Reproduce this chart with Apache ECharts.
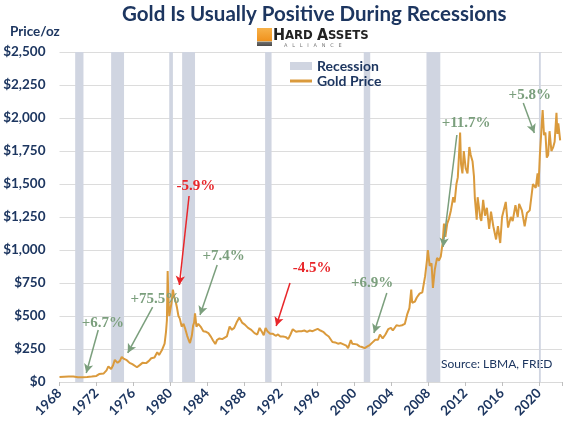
<!DOCTYPE html>
<html lang="en">
<head>
<meta charset="UTF-8">
<title>Gold Is Usually Positive During Recessions</title>
<style>
    html, body { margin: 0; padding: 0; background: #fff; }
    #main { width: 566px; height: 430px; }
</style>
</head>
<body>
<div id="main"></div>
<script src="https://cdn.jsdelivr.net/npm/echarts@6/dist/echarts.min.js"></script>
<script>
    const myChart = echarts.init(document.getElementById('main'));

    // recession periods [start, end] (decimal years)
    const recessions = [
        [1969.7, 1970.6], [1973.6, 1975.0], [1979.9, 1980.3], [1981.3, 1982.7],
        [1990.3, 1991.0], [2001.0, 2001.7], [2007.8, 2009.3], [2020.0, 2020.2]
    ];

    // gold price, [year, $/oz]
    const goldPrice = [
        [1968.0,38],[1968.5,40],[1969.0,42],[1969.5,41],[1970.0,36],[1970.5,36],[1971.0,38],[1971.5,41],
        [1972.0,46],[1972.3,60],[1972.8,65],[1973.1,88],[1973.3,118],[1973.6,98],[1973.8,125],[1974.0,168],
        [1974.3,145],[1974.55,160],[1974.75,190],[1975.0,175],[1975.3,165],[1975.6,145],[1975.9,135],
        [1976.1,130],[1976.4,112],[1976.7,128],[1977.0,145],[1977.4,143],[1977.7,160],[1977.95,180],
        [1978.3,185],[1978.6,225],[1978.8,205],[1979.1,240],[1979.4,290],[1979.55,380],[1979.65,470],
        [1979.73,840],[1979.8,650],[1979.9,500],[1980.0,540],[1980.15,600],[1980.3,700],[1980.45,640],
        [1980.6,610],[1980.75,560],[1980.9,500],[1981.05,480],[1981.25,420],[1981.45,440],[1981.65,400],
        [1981.85,350],[1982.0,320],[1982.15,295],[1982.35,350],[1982.5,430],[1982.6,450],[1982.7,520],
        [1982.85,420],[1983.05,440],[1983.3,420],[1983.6,385],[1983.9,380],[1984.15,370],[1984.45,340],
        [1984.65,315],[1984.9,288],[1985.1,320],[1985.35,330],[1985.65,325],[1985.85,340],[1986.15,345],
        [1986.45,420],[1986.7,395],[1986.95,410],[1987.2,450],[1987.35,460],[1987.5,488],[1987.8,450],
        [1988.1,435],[1988.45,410],[1988.8,395],[1989.15,370],[1989.45,360],[1989.7,410],[1989.95,380],
        [1990.15,355],[1990.35,410],[1990.55,385],[1990.85,365],[1991.15,365],[1991.45,350],[1991.7,360],
        [1991.95,345],[1992.25,345],[1992.55,340],[1992.8,325],[1993.05,360],[1993.3,400],[1993.65,380],
        [1993.95,385],[1994.25,385],[1994.55,390],[1994.85,380],[1995.15,390],[1995.45,385],[1995.75,395],
        [1996.0,402],[1996.3,390],[1996.6,380],[1996.9,360],[1997.2,345],[1997.4,330],[1997.6,303],
        [1997.9,300],[1998.2,290],[1998.5,295],[1998.8,285],[1999.1,275],[1999.3,257],[1999.6,318],
        [1999.75,290],[1999.95,290],[2000.25,285],[2000.55,270],[2000.8,265],[2001.1,257],[2001.4,270],
        [2001.65,280],[2001.95,300],[2002.25,320],[2002.55,320],[2002.75,360],[2003.05,330],[2003.35,360],
        [2003.65,400],[2003.95,410],[2004.15,390],[2004.55,430],[2004.85,425],[2005.15,430],[2005.45,440],
        [2005.7,510],[2005.95,560],[2006.15,700],[2006.25,600],[2006.55,610],[2006.75,640],[2007.05,670],
        [2007.35,680],[2007.65,800],[2007.85,920],[2007.95,1000],[2008.15,880],[2008.35,900],[2008.5,712],
        [2008.7,850],[2008.95,940],[2009.15,920],[2009.35,950],[2009.55,1050],[2009.7,1200],[2009.85,1100],
        [2010.05,1200],[2010.25,1240],[2010.45,1300],[2010.7,1400],[2010.85,1360],[2011.05,1500],
        [2011.2,1550],[2011.35,1750],[2011.45,1890],[2011.55,1650],[2011.7,1580],[2011.85,1750],
        [2012.05,1620],[2012.25,1580],[2012.45,1780],[2012.6,1720],[2012.8,1670],[2012.95,1560],
        [2013.05,1390],[2013.25,1230],[2013.35,1400],[2013.65,1240],[2013.75,1220],[2013.95,1380],
        [2014.15,1260],[2014.35,1320],[2014.6,1160],[2014.8,1290],[2015.05,1180],[2015.25,1170],
        [2015.35,1080],[2015.55,1180],[2015.8,1053],[2016.0,1250],[2016.4,1364],[2016.65,1170],
        [2016.95,1250],[2017.15,1220],[2017.45,1340],[2017.7,1250],[2017.85,1350],[2018.15,1300],
        [2018.45,1180],[2018.7,1280],[2019.0,1300],[2019.2,1300],[2019.35,1500],[2019.65,1470],
        [2019.85,1580],[2019.95,1480],[2020.1,1720],[2020.4,2060],[2020.55,1870],[2020.7,1890],
        [2020.85,1700],[2021.0,1720],[2021.15,1900],[2021.35,1750],[2021.55,1780],[2021.7,1820],
        [2021.9,2040],[2022.0,1880],[2022.1,1960],[2022.3,1830]
    ];

    // annotations: label, text position [year, price], arrow from -> to
    const annoLabels = ['+6.7%', '+75.5%', '-5.9%', '+7.4%', '-4.5%', '+6.9%', '+11.7%', '+5.8%'];
    const annoText = [
        [1972.7, 447], [1978.4, 629], [1982.8, 1485], [1985.8, 955],
        [1995.4, 864], [2001.9, 750], [2012.1, 1962], [2019.0, 2174]
    ];
    const annoArrows = [
        [[1972.2, 394], [1970.9, 68]], [[1978.1, 568], [1975.4, 220]],
        [[1982.05, 1409], [1981.0, 735]], [[1985.1, 886], [1983.24, 508]],
        [[1993.0, 750], [1991.5, 424]], [[2003.5, 674], [2002.1, 371]],
        [[2011.1, 1871], [2009.6, 1023]], [[2018.3, 2114], [2019.5, 1886]]
    ];

    const navy = '#1d3660';
    const green = '#7b9f7d';
    const red = '#e8262a';
    const gold = '#da9a3c';
    const band = '#d0d5e1';

    function annoColor(label) {
        return label[0] === '-' ? red : green;
    }

    const option = {
        animation: false,
        backgroundColor: '#fff',
        textStyle: { fontFamily: 'Lato' },
        grid: { left: 59.5, right: 4, top: 52, bottom: 48 },
        xAxis: {
            type: 'value',
            min: 1968,
            max: 2022.5,
            interval: 4,
            splitLine: { show: false },
            axisLine: { lineStyle: { color: '#d9d9d9' } },
            axisTick: { show: true, length: 4, lineStyle: { color: '#bfbfbf' } },
            axisLabel: {
                rotate: 45,
                margin: 9,
                color: navy,
                fontWeight: 'bold',
                fontSize: 13.5,
                fontFamily: 'Lato',
                formatter: v => (v <= 2020 ? String(v) : '')
            }
        },
        yAxis: {
            type: 'value',
            min: 0,
            max: 2500,
            interval: 250,
            axisLine: { show: false },
            axisTick: { show: false },
            splitLine: { lineStyle: { color: '#dcdcdc' } },
            axisLabel: {
                color: navy,
                fontWeight: 'bold',
                fontSize: 13.5,
                fontFamily: 'Lato',
                margin: 14,
                formatter: v => '$' + v.toLocaleString('en-US')
            }
        },
        legend: {
            orient: 'vertical',
            left: 285,
            top: 54,
            itemWidth: 22,
            itemHeight: 8,
            itemGap: 1,
            textStyle: { color: navy, fontWeight: 'bold', fontSize: 14, fontFamily: 'Lato' },
            data: [
                { name: 'Recession', icon: 'rect', itemStyle: { color: band } },
                { name: 'Gold Price', icon: 'path://M0,0H22V3H0Z', itemStyle: { color: gold } }
            ]
        },
        graphic: [
            {
                type: 'text', left: 122, top: 4,
                style: {
                    text: 'Gold Is Usually Positive During Recessions',
                    fill: navy, font: 'bold 20.5px Lato'
                }
            },
            {
                type: 'text', left: 10, top: 25,
                style: { text: 'Price/oz', fill: navy, font: 'bold 13.5px Lato' }
            },
            {
                type: 'rect', left: 257, top: 28, z: 10,
                shape: { width: 15, height: 18 },
                style: {
                    fill: new echarts.graphic.LinearGradient(0, 0, 0, 1, [
                        { offset: 0, color: '#f7b24a' },
                        { offset: 0.7, color: '#f0931f' },
                        { offset: 0.72, color: '#fde2b0' },
                        { offset: 0.8, color: '#6b6b6b' },
                        { offset: 1, color: '#4a4a4a' }
                    ])
                }
            },
            {
                type: 'text', left: 273, top: 28, z: 10,
                style: {
                    text: '{b|H}{s|ARD }{b|A}{s|SSETS}',
                    fill: '#222',
                    rich: {
                        b: { font: 'bold 16px "Liberation Sans Narrow", "DejaVu Sans Condensed", sans-serif', fill: '#222' },
                        s: { font: 'bold 13px "Liberation Sans Narrow", "DejaVu Sans Condensed", sans-serif', fill: '#222' }
                    }
                }
            },
            {
                type: 'text', left: 284, top: 43, z: 10,
                style: { text: 'A   L   L   I   A   N   C   E', fill: '#777', font: '5px "DejaVu Sans"' }
            },
            {
                type: 'text', left: 441, top: 358,
                style: { text: 'Source: LBMA, FRED', fill: navy, font: '12px Lato' }
            }
        ],
        series: [
            {
                name: 'Recession',
                type: 'custom',
                data: recessions,
                encode: { x: [0, 1] },
                z: 1,
                silent: true,
                renderItem: (params, api) => {
                    const p1 = api.coord([api.value(0), 2500]);
                    const p2 = api.coord([api.value(1), 0]);
                    return {
                        type: 'rect',
                        shape: { x: p1[0], y: p1[1], width: Math.max(p2[0] - p1[0], 1.5), height: p2[1] - p1[1] },
                        style: { fill: band }
                    };
                }
            },
            {
                name: 'Gold Price',
                type: 'line',
                data: goldPrice,
                showSymbol: false,
                z: 3,
                lineStyle: { color: gold, width: 2 },
                itemStyle: { color: gold },
                markLine: {
                    silent: true,
                    symbol: ['none', 'arrow'],
                    symbolSize: [7, 9],
                    label: { show: false },
                    data: annoArrows.map((a, i) => [
                        { coord: a[0], lineStyle: { color: annoColor(annoLabels[i]), width: 1.5, type: 'solid' } },
                        { coord: a[1] }
                    ])
                },
                markPoint: {
                    silent: true,
                    symbol: 'circle',
                    symbolSize: 0,
                    data: annoText.map((p, i) => ({
                        coord: p,
                        label: {
                            show: true,
                            position: 'inside',
                            formatter: annoLabels[i],
                            color: annoColor(annoLabels[i]),
                            fontFamily: '"Liberation Serif", serif',
                            fontWeight: 'bold',
                            fontSize: 15
                        }
                    }))
                }
            }
        ]
    };

    myChart.setOption(option);
</script>
</body>
</html>
